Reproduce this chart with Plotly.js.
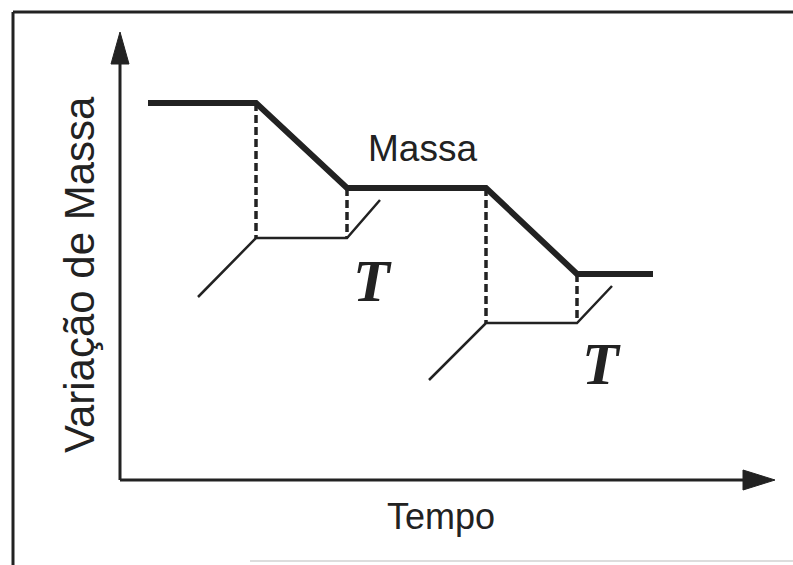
<!DOCTYPE html>
<html>
<head>
<meta charset="utf-8">
<script src="https://cdn.plot.ly/plotly-3.0.1.min.js"></script>
<style>html,body{margin:0;padding:0;background:#fff;}#chart{width:793px;height:565px;}</style>
</head>
<body>
<div id="chart"></div>
<script>
// Schematic thermogravimetric curve (arbitrary units)
const massTime  = [2.8, 13.6, 22.7, 36.6, 45.7, 53.3];
const massValue = [37.7, 37.7, 29.2, 29.2, 20.6, 20.6];
const temp1Time  = [7.8, 13.6, 22.7, 26.0];
const temp1Value = [18.3, 24.2, 24.2, 28.0];
const temp2Time  = [30.9, 36.6, 45.7, 49.2];
const temp2Value = [10.0, 15.7, 15.7, 19.4];
const labels = {y: "Variação de Massa", x: "Tempo", mass: "Massa", temp: "T"};

const ink = "#222";
const traces = [];
// dashed drop lines linking mass steps and temperature plateaus
const drops = [
  [massTime[1], massValue[1], temp1Value[1]],
  [massTime[2], massValue[2], temp1Value[2]],
  [massTime[3], massValue[3], temp2Value[1]],
  [massTime[4], massValue[4], temp2Value[2]]
];
drops.forEach(d => traces.push({
  x: [d[0], d[0]], y: [d[1], d[2]], mode: "lines", type: "scatter",
  line: {color: ink, width: 3.5, dash: "8px,4px"}, hoverinfo: "skip", showlegend: false
}));
traces.push({x: temp1Time, y: temp1Value, mode: "lines", type: "scatter",
  line: {color: ink, width: 2.5}, showlegend: false});
traces.push({x: temp2Time, y: temp2Value, mode: "lines", type: "scatter",
  line: {color: ink, width: 2.5}, showlegend: false});
traces.push({x: massTime, y: massValue, mode: "lines", type: "scatter",
  line: {color: ink, width: 6}, showlegend: false});

const layout = {
  width: 793, height: 565,
  margin: {l: 0, r: 0, t: 0, b: 0},
  paper_bgcolor: "#fff", plot_bgcolor: "#fff",
  xaxis: {range: [-12, 67.3], visible: false, fixedrange: true},
  yaxis: {range: [-8.5, 48], visible: false, fixedrange: true},
  shapes: [
    // frame
    {type: "line", xref: "paper", yref: "paper", x0: 13/793, x1: 1, y0: 1 - 12/565, y1: 1 - 12/565, line: {color: ink, width: 3}},
    {type: "line", xref: "paper", yref: "paper", x0: 13/793, x1: 13/793, y0: 0, y1: 1 - 12/565, line: {color: ink, width: 3}},
    {type: "line", xref: "paper", yref: "paper", x0: 250/793, x1: 1, y0: 4/565, y1: 4/565, line: {color: "#ddd", width: 2}},
    // axes
    {type: "line", x0: 0, x1: 0, y0: 0, y1: 42, line: {color: ink, width: 3}},
    {type: "line", x0: 0, x1: 63, y0: 0, y1: 0, line: {color: ink, width: 3}},
    {type: "path", path: "M -0.9 41.6 L 0 44.8 L 0.9 41.6 Z", fillcolor: ink, line: {color: ink, width: 1}},
    {type: "path", path: "M 62.3 1.0 L 65.5 0 L 62.3 -1.0 Z", fillcolor: ink, line: {color: ink, width: 1}}
  ],
  annotations: [
    {x: 30.2, y: 33.2, text: labels.mass, showarrow: false,
     font: {family: "Liberation Sans, Arial, sans-serif", size: 37, color: ink}},
    {x: 25.2, y: 19.9, text: "<b><i>" + labels.temp + "</i></b>", showarrow: false,
     font: {family: "Liberation Serif, Times New Roman, serif", size: 60, color: ink}},
    {x: 48.1, y: 11.6, text: "<b><i>" + labels.temp + "</i></b>", showarrow: false,
     font: {family: "Liberation Serif, Times New Roman, serif", size: 60, color: ink}},
    {x: 32.1, y: -3.6, text: labels.x, showarrow: false,
     font: {family: "Liberation Sans, Arial, sans-serif", size: 36, color: ink}},
    {x: -4.1, y: 20.5, text: labels.y, showarrow: false, textangle: -90,
     font: {family: "Liberation Sans, Arial, sans-serif", size: 42, color: ink}}
  ]
};
Plotly.newPlot("chart", traces, layout, {staticPlot: true, displayModeBar: false});
</script>
</body>
</html>
